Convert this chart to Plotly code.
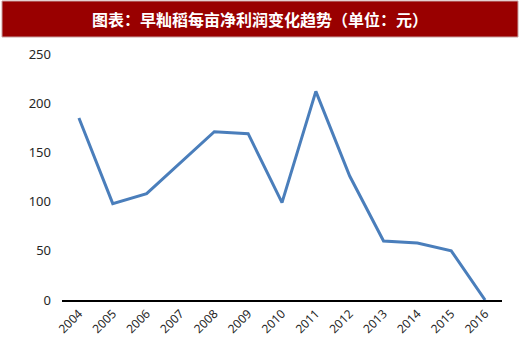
import plotly.graph_objects as go

years = ["2004", "2005", "2006", "2007", "2008", "2009", "2010",
         "2011", "2012", "2013", "2014", "2015", "2016"]
net_profit = [185, 98, 108, 140, 171, 169, 99, 212, 126, 60, 58, 50, 0]
y_ticks = [0, 50, 100, 150, 200, 250]
title_text = "图表：早籼稻每亩净利润变化趋势（单位：元）"

W, H = 520, 356
L, R, T, B = 62, 18, 54, 56
pw, ph = W - L - R, H - T - B

def px(x):
    return (x - L) / pw

def py(y):
    return (H - B - y) / ph

fig = go.Figure()
fig.add_trace(go.Scatter(
    x=years, y=net_profit, mode="lines",
    line=dict(color="#4A7EBB", width=3),
    hoverinfo="x+y",
))

fig.update_layout(
    width=W, height=H,
    margin=dict(l=L, r=R, t=T, b=B, autoexpand=False),
    paper_bgcolor="white", plot_bgcolor="white",
    showlegend=False,
    font=dict(family="Noto Sans, DejaVu Sans, sans-serif", color="#262626"),
    xaxis=dict(
        type="category", range=[-0.5, len(years) - 0.5],
        showgrid=False, showline=True, linecolor="black", linewidth=2,
        ticks="", tickangle=-45, tickfont=dict(size=12, color="#262626"),
        zeroline=False, automargin=False,
    ),
    yaxis=dict(
        range=[0, 250], tickvals=y_ticks, showgrid=False, showline=False,
        zeroline=False, ticks="", tickfont=dict(size=13, color="#262626"),
        ticklabelstandoff=10, automargin=False,
    ),
    shapes=[dict(
        type="rect", xref="paper", yref="paper",
        x0=px(2), x1=px(518), y0=py(37), y1=py(1),
        fillcolor="#990000", line=dict(color="#C8A0A0", width=1),
        layer="below",
    )],
    annotations=[dict(
        text="<b>" + title_text + "</b>", xref="paper", yref="paper",
        x=px(260), y=py(19), xanchor="center", yanchor="middle",
        showarrow=False,
        font=dict(family="Noto Sans CJK SC", size=16, color="white"),
    )],
)

fig.write_html("out.html", config={"displayModeBar": False},
               post_script="document.body.style.margin='0';")
